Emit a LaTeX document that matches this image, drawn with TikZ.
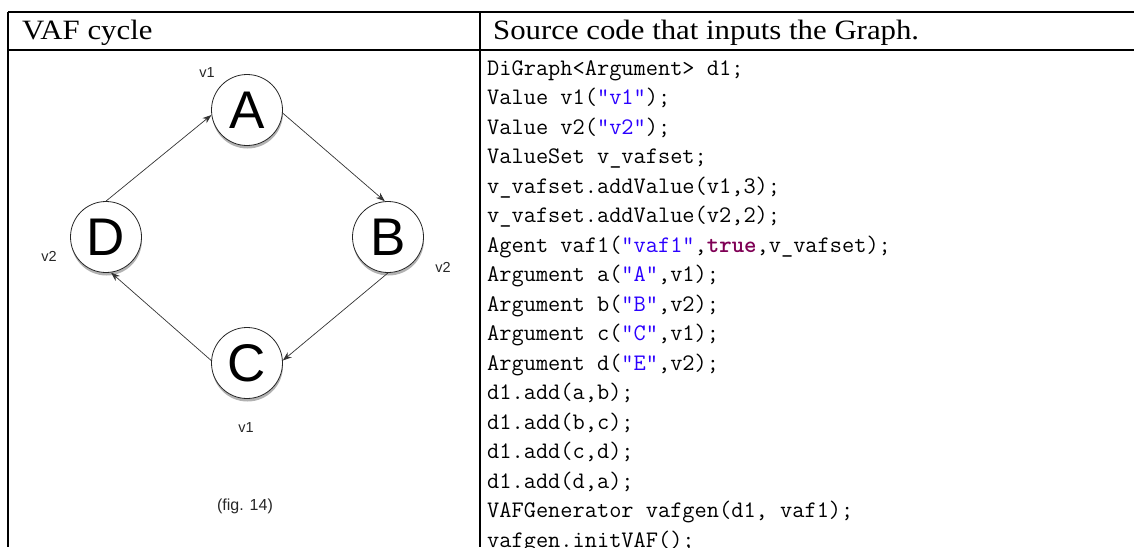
\documentclass[tikz,border=0pt]{standalone}
\usepackage{fontspec}
\setmainfont{Liberation Serif}
\newfontfamily\graphfont{Liberation Sans}
\newfontfamily\headfont[FakeStretch=1.1]{Liberation Serif}
\usetikzlibrary{arrows.meta,shadows}
\definecolor{strblue}{HTML}{2A00FF}
\definecolor{kwpurple}{HTML}{7F0055}
\newcommand{\qs}[1]{\textcolor{strblue}{"#1"}}
\newcommand{\kw}[1]{\textcolor{kwpurple}{\bfseries #1}}
\begin{document}
\begin{tikzpicture}[x=1pt,y=-1pt,
  tbl/.style={line width=1.4pt, black},
  headtext/.style={anchor=base west, inner sep=0pt, font=\headfont\fontsize{28}{30}\selectfont},
  codeline/.style={anchor=base west, inner sep=0pt, font=\ttfamily\fontsize{23.7}{26}\selectfont},
  vnode/.style={circle, draw=black!85, line width=0.8pt, fill=white, minimum size=71pt, inner sep=0pt,
     font=\graphfont\fontsize{53}{55}\selectfont,
     drop shadow={shadow xshift=0.5pt, shadow yshift=-3pt, opacity=0.3, fill=black}},
  vlabel/.style={inner sep=0pt, text=black!85, font=\graphfont\fontsize{14.5}{16}\selectfont},
  edge/.style={draw=black!80, line width=0.7pt, -{Stealth[length=9pt,width=6.5pt]}}
]
\useasboundingbox (0,0) rectangle (1134,547);
% table rules
\draw[tbl] (8,12) -- (1134,12);
\draw[tbl] (8,50) -- (1134,50);
\draw[tbl] (8,12) -- (8,547);
\draw[tbl] (480,12) -- (480,547);
% headers
\node[headtext] (h1) at (22,39) {VAF cycle};
\node[headtext] (h2) at (493,39) {Source code that inputs the Graph.};
% graph
\node[vnode] (A) at (247,110) {A};
\node[vnode] (B) at (388,237) {B};
\node[vnode] (C) at (247,363) {C};
\node[vnode] (D) at (106,237) {D};
\draw[edge] (D.north) -- (A.188);
\draw[edge] (A.-5) -- (B.95);
\draw[edge] (B.south) -- (C.4);
\draw[edge] (C.176) -- (D.-82);
\node[vlabel] (lA) at (207,73) {v1};
\node[vlabel] (lD) at (49,256) {v2};
\node[vlabel] (lB) at (443,267) {v2};
\node[vlabel] (lC) at (246,428) {v1};
\node[vlabel, font=\graphfont\fontsize{16}{18}\selectfont] (fig) at (245,506) {(fig. 14)};
% code
\foreach \t [count=\i from 0] in {
  {DiGraph<Argument> d1;},
  {Value v1(\qs{v1});},
  {Value v2(\qs{v2});},
  {ValueSet v\_vafset;},
  {v\_vafset.addValue(v1,3);},
  {v\_vafset.addValue(v2,2);},
  {Agent vaf1(\qs{vaf1},\kw{true},v\_vafset);},
  {Argument a(\qs{A},v1);},
  {Argument b(\qs{B},v2);},
  {Argument c(\qs{C},v1);},
  {Argument d(\qs{E},v2);},
  {d1.add(a,b);},
  {d1.add(b,c);},
  {d1.add(c,d);},
  {d1.add(d,a);},
  {VAFGenerator vafgen(d1, vaf1);},
  {vafgen.initVAF();}} {
  \node[codeline] (code\i) at (487,{75+29.5*\i}) {\t};
}
\end{tikzpicture}
\end{document}
